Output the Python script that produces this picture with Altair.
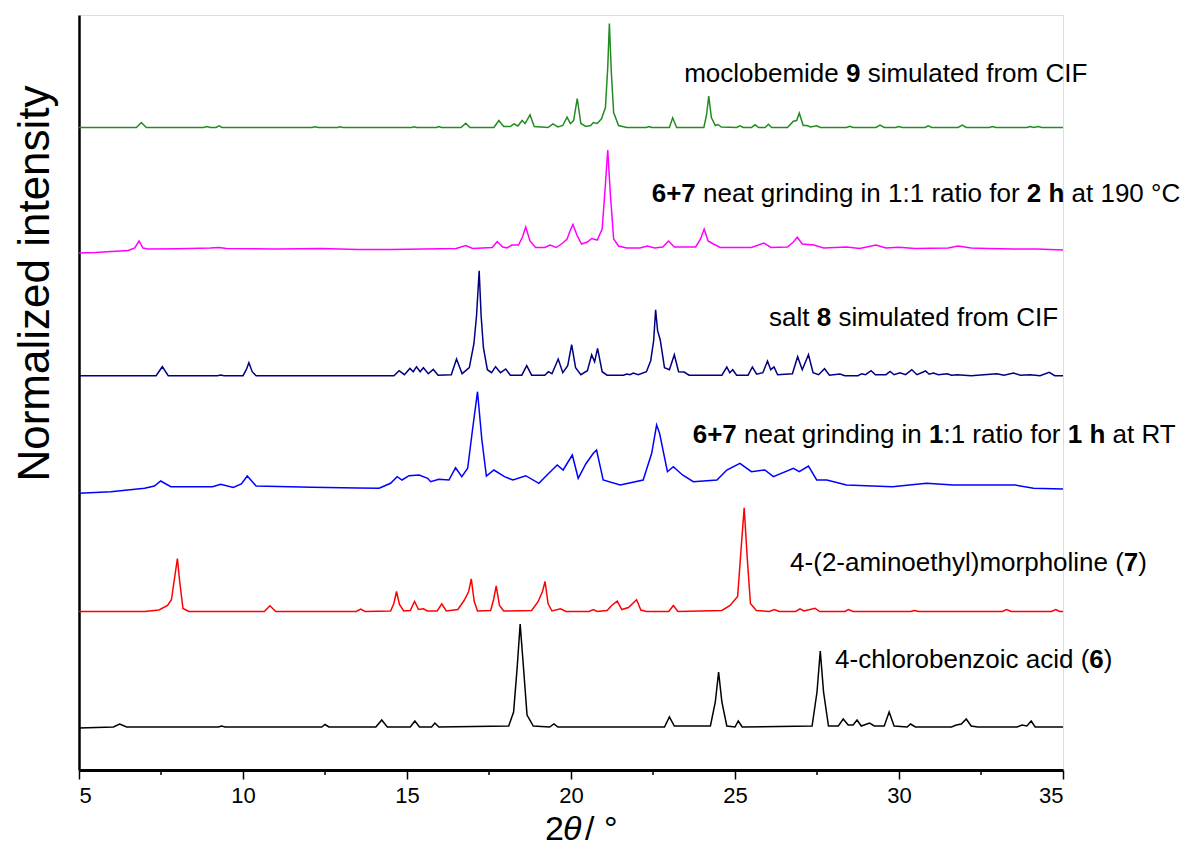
import altair as alt
import pandas as pd

# ---------------------------------------------------------------------------
# Powder X-ray diffraction patterns, stacked with a vertical offset.
# Each pattern: list of (2theta, intensity above its own baseline) vertices.
# ---------------------------------------------------------------------------

X_MIN, X_MAX = 5, 35
Y_MAX = 755

X_TICKS = [5, 10, 15, 20, 25, 30, 35]
X_MINOR = [7.5, 12.5, 17.5, 22.5, 27.5, 32.5]

# baseline offset of each stacked pattern (a.u.)
OFFSETS = {
    "black": 43,
    "red": 158.5,
    "blue": 281,
    "navy": 394.3,
    "magenta": 521,
    "green": 642.5,
}

COLORS = {
    "black": "#000000",
    "red": "#FF0000",
    "blue": "#0000FF",
    "navy": "#000080",
    "magenta": "#FF00FF",
    "green": "#228B22",
}

# moclobemide 9 simulated from CIF
GREEN = [
    (5.0, 0), (6.75, 0), (6.9, 5), (7.05, 0),
    (8.8, 0), (8.9, 1), (9.0, 0), (9.18, 0), (9.27, 1.7), (9.36, 0),
    (12.1, 0), (12.2, 0.8), (12.3, 0), (12.9, 0), (12.95, 0.8), (13.05, 0),
    (15.15, 0), (15.21, 0.8), (15.3, 0), (15.9, 0), (15.97, 1), (16.05, 0),
    (16.65, 0), (16.79, 4.3), (16.92, 0),
    (17.65, 0), (17.80, 7), (17.95, 1), (18.15, 1), (18.26, 3.7), (18.38, 1.5),
    (18.51, 7), (18.6, 4), (18.75, 12.7), (18.88, 1),
    (19.3, 0), (19.45, 3.7), (19.6, 0.5), (19.75, 2), (19.88, 10.3), (19.98, 4),
    (20.08, 7), (20.19, 29), (20.3, 4), (20.45, 1),
    (20.6, 2), (20.68, 5), (20.8, 4), (20.93, 8.7), (21.05, 20), (21.12, 60),
    (21.17, 104), (21.23, 55), (21.3, 15), (21.45, 2), (21.7, 0),
    (22.3, 0), (22.38, 1), (22.46, 0), (23.0, 0), (23.10, 9.7), (23.22, 0),
    (24.05, 0), (24.13, 12), (24.20, 31.3), (24.28, 10), (24.4, 2), (24.48, 3), (24.58, 0.5),
    (25.05, 0), (25.15, 1.7), (25.25, 0), (25.5, 0), (25.61, 2.7), (25.72, 0),
    (25.92, 0), (26.02, 3.3), (26.12, 0),
    (26.6, 0), (26.78, 6.3), (26.88, 7), (26.96, 14.3), (27.08, 2), (27.19, 2),
    (27.3, 0.5), (27.49, 1.7), (27.6, 0),
    (28.4, 0), (28.5, 1.3), (28.6, 0), (29.3, 0), (29.42, 2.3), (29.55, 0),
    (29.9, 0), (29.99, 1), (30.1, 0),
    (30.8, 0), (30.89, 1.7), (31.0, 0), (31.8, 0), (31.93, 2.3), (32.05, 0),
    (32.75, 0), (32.85, 1), (32.95, 0),
    (33.9, 0), (34.0, 1), (34.1, 0), (34.25, 1), (34.35, 0), (35.0, 0),
]

# 6+7 neat grinding 1:1, 2 h at 190 °C
MAGENTA = [
    (5.0, -4), (5.5, -3.5), (6.0, -2.5), (6.5, -1.5), (6.7, 1), (6.83, 8), (6.95, 1), (7.1, 0),
    (8.0, 0.3), (9.0, 1), (9.27, 1.5), (9.5, 0.5), (11.0, 0), (12.4, 0.5), (13.5, -0.5),
    (14.5, -0.5), (15.5, 0),
    (16.5, 0.5), (16.79, 3.5), (17.0, 0.5), (17.6, 1.5), (17.75, 7.5), (17.92, 2), (18.05, 1),
    (18.2, 4), (18.4, 4), (18.52, 12), (18.62, 22), (18.75, 8), (18.92, 1.5),
    (19.2, 1.5), (19.36, 4), (19.55, 1.5), (19.75, 6), (19.88, 10), (19.97, 18), (20.06, 24.5),
    (20.18, 14), (20.32, 5), (20.5, 7), (20.63, 10.5), (20.8, 9), (20.95, 20), (21.05, 65),
    (21.12, 99), (21.2, 55), (21.3, 10), (21.45, 3), (21.7, 1),
    (22.1, 1), (22.33, 3), (22.55, 1), (22.8, 2), (22.97, 8), (23.15, 2), (23.8, 2),
    (23.95, 10), (24.06, 20), (24.18, 8), (24.34, 5), (24.55, 1.5),
    (25.5, 1.5), (25.88, 6), (26.1, 1.5), (26.6, 2), (26.78, 7), (26.9, 11.7), (27.05, 5),
    (27.41, 4), (27.7, 1),
    (28.4, 2), (28.8, 0.5), (29.3, 4), (29.6, 1), (29.99, 1.7), (30.5, 0.5), (31.5, 1),
    (31.8, 3), (32.2, 1), (32.7, 0.5), (33.5, 0), (34.2, 0), (35.0, -1),
]

# salt 8 simulated from CIF
NAVY = [
    (5.0, 0), (7.35, 0), (7.54, 9), (7.72, 0), (9.22, 0), (9.32, 0.7), (9.42, 0),
    (10.0, 0), (10.1, 6), (10.18, 13), (10.28, 4), (10.4, 0),
    (12.5, 0), (14.6, 0), (14.76, 5), (14.92, 1), (15.09, 7.3), (15.19, 4), (15.29, 9),
    (15.40, 4), (15.50, 8), (15.65, 2), (15.80, 6.3), (15.95, 0.5),
    (16.35, 1), (16.51, 16.7), (16.68, 2), (16.9, 8), (17.04, 32), (17.12, 60), (17.20, 105),
    (17.26, 60), (17.33, 28), (17.45, 6), (17.58, 3), (17.70, 9), (17.85, 3), (18.01, 6.7),
    (18.15, 0.5),
    (18.5, 0.5), (18.65, 10), (18.8, 0.5), (19.2, 0.5), (19.31, 4), (19.42, 2), (19.61, 16.7),
    (19.75, 3), (19.9, 10), (20.02, 31), (20.14, 8), (20.3, 1), (20.5, 5), (20.63, 21),
    (20.72, 14), (20.81, 27.3), (20.95, 4), (21.1, 0.5),
    (21.6, 0.5), (21.70, 1.7), (21.8, 1), (21.9, 2.7), (22.05, 1), (22.3, 4), (22.43, 15),
    (22.52, 35), (22.58, 66), (22.64, 45), (22.72, 36), (22.85, 8), (23.0, 6), (23.15, 21),
    (23.28, 4), (23.45, 3.7), (23.6, 0.5),
    (24.6, 0.5), (24.75, 8.7), (24.84, 3), (24.93, 6), (25.05, 0.5), (25.4, 0.5), (25.53, 8.7),
    (25.66, 1.5), (25.85, 3), (25.99, 14.7), (26.09, 6), (26.19, 8.7), (26.3, 1),
    (26.75, 2), (26.91, 19), (27.05, 6), (27.24, 21), (27.38, 3), (27.55, 1), (27.73, 7),
    (27.88, 0.5), (28.2, 1.7), (28.35, 0),
    (28.75, 0), (28.86, 2), (28.98, 1), (29.15, 5), (29.28, 1), (29.6, 1), (29.73, 4.3),
    (29.85, 1), (30.03, 3), (30.2, 1), (30.39, 6), (30.55, 1), (30.81, 4.7), (30.92, 1.5),
    (31.05, 2.7), (31.2, 1), (31.47, 2), (31.6, 0.5), (31.78, 1),
    (32.2, 0), (32.98, 2), (33.2, 0.5), (33.49, 2.7), (33.7, 0.5), (34.0, 1), (34.3, 0),
    (34.58, 3.3), (34.75, 0), (35.0, 0),
]

# 6+7 neat grinding 1:1, 1 h at RT
BLUE = [
    (5.0, -4.3), (5.97, -2.7), (7.0, 0.7), (7.3, 3), (7.49, 8), (7.8, 2.3), (9.07, 2.3),
    (9.32, 4.7), (9.7, 1.5), (9.95, 5), (10.13, 13), (10.4, 3), (12.1, 1.7), (13.5, 1),
    (14.15, 0.7), (14.5, 5.7), (14.7, 12.3), (14.85, 9), (15.06, 13.3), (15.37, 14),
    (15.63, 10.7), (15.72, 7.3), (15.97, 9.7), (16.28, 9), (16.48, 21.3), (16.67, 12.3),
    (16.85, 20.7), (17.0, 60), (17.15, 97.3), (17.28, 50), (17.42, 13), (17.65, 19),
    (17.97, 12.3), (18.23, 9), (18.62, 13.3), (19.02, 5.7), (19.3, 15), (19.58, 24),
    (19.76, 19), (20.04, 34), (20.22, 10.7), (20.45, 25), (20.68, 35.7), (20.78, 39),
    (20.98, 9), (21.5, 4), (22.2, 9), (22.46, 35.7), (22.61, 64), (22.7, 55.7), (22.94, 17.3),
    (23.12, 22.3), (23.4, 14), (23.73, 7.3), (24.45, 9), (24.75, 19), (25.15, 25.7),
    (25.5, 17.3), (25.91, 19), (26.17, 12.3), (26.78, 20.7), (26.96, 17.3), (27.24, 23),
    (27.49, 9), (27.8, 9), (28.4, 4), (29.8, 2.3), (30.84, 5.7), (31.65, 4), (33.54, 4),
    (34.1, 0.7), (35.0, 0),
]

# 4-(2-aminoethyl)morpholine (7)
RED = [
    (5.0, 0), (7.0, 0), (7.44, 1.5), (7.7, 6), (7.82, 12), (7.92, 35), (8.0, 53), (8.07, 30),
    (8.17, 3), (8.35, 0),
    (10.65, 0), (10.82, 5.7), (11.0, 0), (13.45, 0), (13.59, 2.3), (13.72, 0),
    (14.5, 0.5), (14.6, 8), (14.68, 20), (14.77, 7), (14.9, 0.5), (15.1, 1), (15.23, 10),
    (15.35, 2), (15.5, 2.7), (15.62, 0.5),
    (15.92, 0.5), (16.06, 7.7), (16.2, 0.5), (16.55, 2), (16.74, 11), (16.88, 20),
    (16.96, 32.7), (17.05, 10), (17.15, 0.5),
    (17.55, 1), (17.64, 12), (17.72, 25.7), (17.82, 6), (17.95, 0.5),
    (18.8, 1), (19.0, 10), (19.13, 20), (19.21, 30), (19.3, 8), (19.42, 0.5), (19.68, 2.7),
    (19.85, 0),
    (20.55, 0), (20.68, 2), (20.8, 0), (21.1, 1), (21.24, 6), (21.41, 10.3), (21.55, 2),
    (21.75, 4), (22.0, 11.7), (22.13, 1.5), (22.3, 0),
    (22.98, 0), (23.12, 6), (23.26, 0), (24.6, 1), (24.85, 6), (25.08, 15), (25.18, 60),
    (25.28, 103.7), (25.37, 55), (25.47, 8), (25.65, 1),
    (26.05, 0), (26.2, 2), (26.35, 0), (26.85, 0), (26.98, 2.7), (27.1, 0.5), (27.44, 3.3),
    (27.58, 0), (28.35, 0), (28.46, 2), (28.6, 0),
    (30.35, 0), (30.47, 1), (30.6, 0), (33.15, 0), (33.28, 2), (33.42, 0), (34.65, 0),
    (34.78, 2), (34.9, 0), (35.0, 0),
]

# 4-chlorobenzoic acid (6)
BLACK = [
    (5.0, -1), (6.05, 0), (6.24, 3), (6.45, 0), (9.25, 0), (9.35, 1), (9.45, 0), (12.4, 0),
    (12.5, 2.5), (12.62, 0),
    (14.05, 0), (14.23, 7), (14.4, 0), (15.1, 0), (15.24, 6), (15.38, 0), (15.75, 0),
    (15.85, 4), (15.97, 0),
    (18.1, 1), (18.25, 15), (18.36, 60), (18.45, 103), (18.55, 60), (18.66, 12), (18.85, 1),
    (19.35, 0), (19.48, 3), (19.6, 0),
    (22.85, 0), (23.0, 10), (23.15, 1), (24.25, 1), (24.4, 25), (24.5, 55), (24.6, 25),
    (24.75, 1), (25.0, 0), (25.1, 6), (25.22, 0),
    (27.35, 1), (27.5, 35), (27.6, 76), (27.7, 35), (27.85, 1), (28.15, 1), (28.3, 8),
    (28.45, 2), (28.6, 2), (28.72, 7), (28.85, 1), (29.1, 4), (29.25, 1), (29.55, 1),
    (29.7, 15), (29.85, 1), (30.25, 0), (30.35, 3), (30.5, 0),
    (31.6, 0), (31.75, 2), (31.9, 3), (32.05, 8), (32.2, 1), (32.4, 0), (33.6, 0),
    (33.75, 2), (33.9, 1), (34.03, 6), (34.15, 0), (35.0, 0),
]

PATTERNS = {
    "green": GREEN,
    "magenta": MAGENTA,
    "navy": NAVY,
    "blue": BLUE,
    "red": RED,
    "black": BLACK,
}

# Labels: (pattern, left 2theta, baseline height, [(text, bold), ...])
LABELS = [
    ("green", 23.45, 688, [("moclobemide ", False), ("9", True), (" simulated from CIF", False)]),
    ("magenta", 22.46, 568, [("6+7", True), (" neat grinding in 1:1 ratio for ", False),
                             ("2 h", True), (" at 190 \u00b0C", False)]),
    ("navy", 26.04, 444, [("salt ", False), ("8", True), (" simulated from CIF", False)]),
    ("blue", 23.71, 327, [("6+7", True), (" neat grinding in ", False), ("1", True),
                          (":1 ratio for ", False), ("1 h", True), (" at RT", False)]),
    ("red", 26.68, 199, [("4-(2-aminoethyl)morpholine (", False), ("7", True), (")", False)]),
    ("black", 28.05, 102, [("4-chlorobenzoic acid (", False), ("6", True), (")", False)]),
]

FONT = "Liberation Sans"
LABEL_SIZE = 26

# Arial-compatible advance widths (1/1000 em)
REGULAR_W = {" ": 278, "+": 584, ":": 278, "(": 333, ")": 333, "-": 333, "\u00b0": 400,
             "a": 556, "b": 556, "c": 500, "d": 556, "e": 556, "f": 278, "g": 556, "h": 556,
             "i": 222, "l": 222, "m": 833, "n": 556, "o": 556, "p": 556, "r": 333, "s": 500,
             "t": 278, "u": 556, "y": 500, "z": 500, "C": 722, "F": 611, "I": 278, "R": 722,
             "T": 611}
BOLD_W = {" ": 278, "+": 584, "h": 611, ":": 333}
for d in "0123456789":
    REGULAR_W[d] = 556
    BOLD_W[d] = 556


def text_width(s, bold):
    table = BOLD_W if bold else REGULAR_W
    return sum(table.get(ch, 556) for ch in s) * LABEL_SIZE / 1000.0


# ---------------------------------------------------------------------------
rows = []
for name, pts in PATTERNS.items():
    for i, (tt, val) in enumerate(pts):
        rows.append({"pattern": name, "two_theta": tt,
                     "intensity": OFFSETS[name] + val, "order": i})
df = pd.DataFrame(rows)

x_scale = alt.Scale(domain=[X_MIN, X_MAX], nice=False, zero=False)
y_scale = alt.Scale(domain=[0, Y_MAX], nice=False, zero=False)

lines = alt.Chart(df).mark_line(strokeWidth=1.5, interpolate="linear").encode(
    x=alt.X("two_theta:Q", scale=x_scale,
            axis=alt.Axis(values=X_TICKS, title=None, format="d", labelFontSize=22,
                          labelFont=FONT, labelColor="black", labelPadding=6,
                          tickSize=9, tickWidth=1.5, tickColor="black",
                          domainWidth=3, domainColor="black", grid=False)),
    y=alt.Y("intensity:Q", scale=y_scale,
            axis=alt.Axis(title="Normalized intensity", labels=False, ticks=False,
                          domainWidth=2.5, domainColor="black", grid=False,
                          titleFont=FONT, titleFontSize=44, titleFontWeight="normal",
                          titleColor="black", titleX=-44, titleY=268,
                          titleAlign="center", titleBaseline="middle")),
    color=alt.Color("pattern:N",
                    scale=alt.Scale(domain=list(COLORS.keys()), range=list(COLORS.values())),
                    legend=None),
    detail="pattern:N",
    order="order:Q",
)

minor = alt.Chart(pd.DataFrame({"two_theta": X_MINOR})).mark_rule(
    color="black", strokeWidth=1.5
).encode(
    x=alt.X("two_theta:Q", scale=x_scale),
    y=alt.value(Y_MAX),
    y2=alt.value(Y_MAX + 5),
)

layers = [lines, minor]

for name, x0, y0, segs in LABELS:
    cursor = 0.0
    for text, bold in segs:
        lead = len(text) - len(text.lstrip(" "))
        body = text.strip(" ")
        dx = cursor + lead * REGULAR_W[" "] * LABEL_SIZE / 1000.0
        seg = alt.Chart(pd.DataFrame({"two_theta": [x0], "intensity": [y0], "t": [body]})).mark_text(
            align="left", baseline="alphabetic", dx=dx, font=FONT, fontSize=LABEL_SIZE,
            fontWeight="bold" if bold else "normal", color="black",
        ).encode(
            x=alt.X("two_theta:Q", scale=x_scale),
            y=alt.Y("intensity:Q", scale=y_scale),
            text="t:N",
        )
        layers.append(seg)
        cursor += text_width(text, bold)

# x-axis title: 2θ / °
x_title_parts = [("2", "normal", 0), ("\u03b8", "italic", 18), ("/ \u00b0", "normal", 40)]
for text, style, dx in x_title_parts:
    layers.append(
        alt.Chart(pd.DataFrame({"t": [text]})).mark_text(
            align="left", baseline="alphabetic", font=FONT, fontSize=34,
            fontStyle=style, color="black", dx=dx,
        ).encode(x=alt.value(466), y=alt.value(825), text="t:N")
    )

chart = alt.layer(*layers).properties(
    width=984,
    height=Y_MAX,
    autosize=alt.AutoSizeParams(type="none"),
    padding={"left": 79, "top": 15, "right": 137, "bottom": 77},
).configure_view(stroke=None).configure(background="white")

chart.save("out.html", embed_options={"renderer": "svg", "actions": False})
